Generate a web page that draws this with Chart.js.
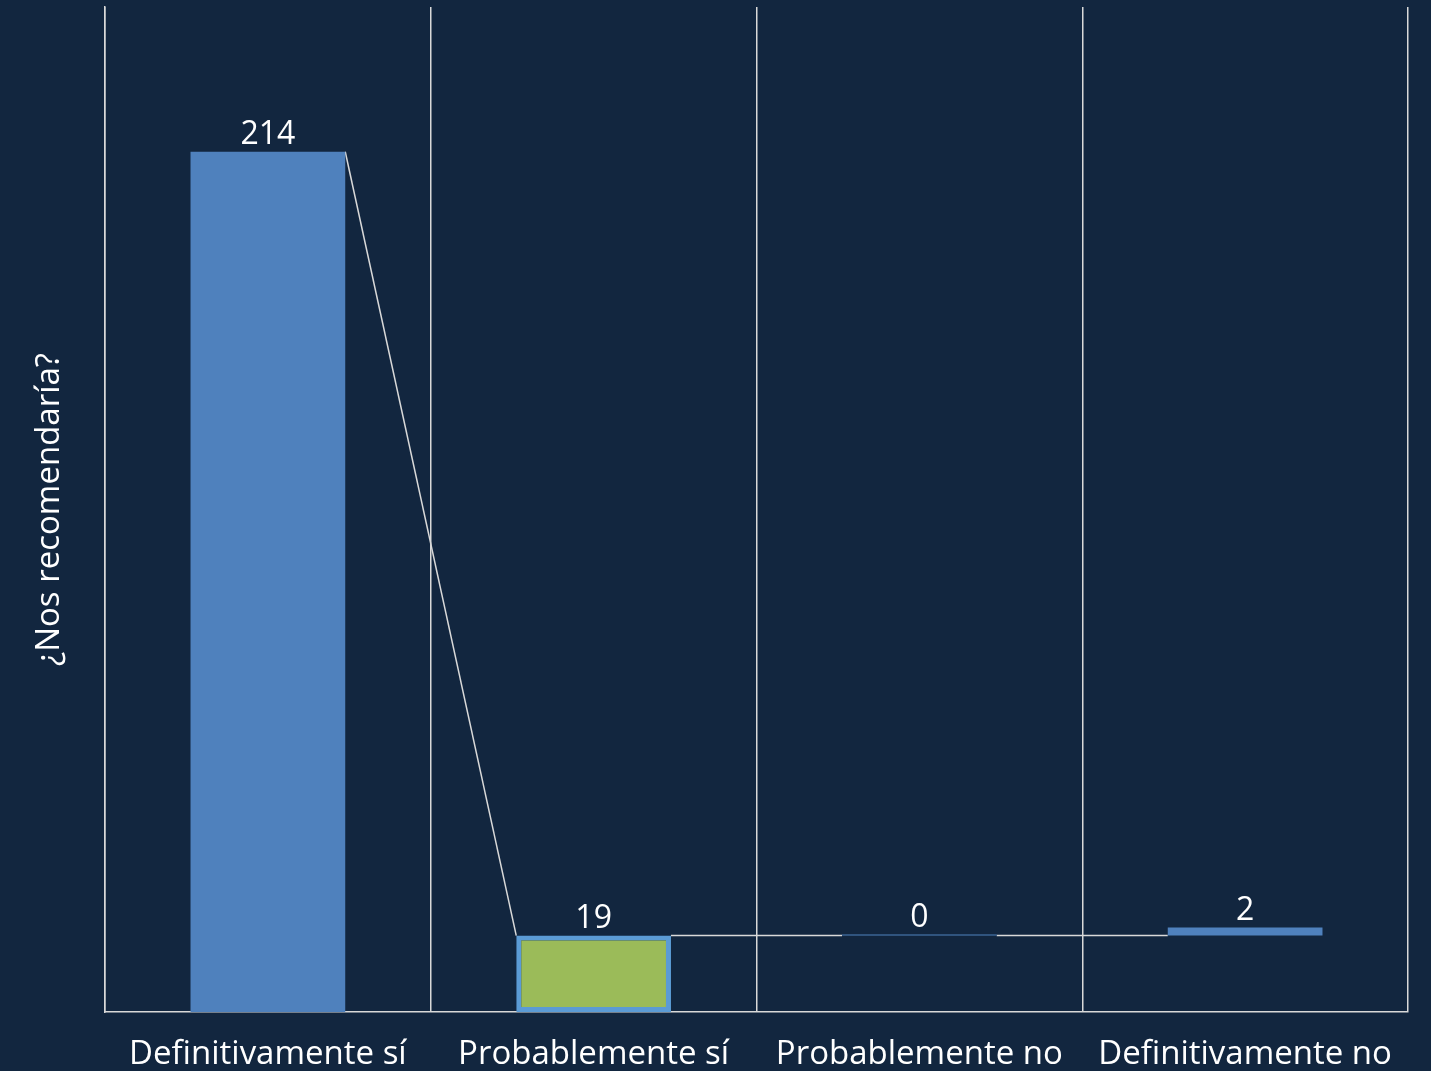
<!DOCTYPE html>
<html lang="es">
<head>
    <meta charset="UTF-8">
    <title>¿Nos recomendaría?</title>
    <script src="https://cdn.jsdelivr.net/npm/chart.js@4"></script>
    <style>
        html, body {
            margin: 0;
            padding: 0;
            background: #12263f;
        }
        .wrap {
            width: 1431px;
            height: 1071px;
            position: relative;
        }
    </style>
</head>
<body>
<div class="wrap">
    <canvas id="chart"></canvas>
</div>

<script>
    // datos
    const categories = ["Definitivamente sí", "Probablemente sí", "Probablemente no", "Definitivamente no"];
    const values = [214, 19, 0, 2];
    const bases = [0, 0, 19, 19];

    const fillColors = ["#4f81bd", "#9bbb59", "#4f81bd", "#4f81bd"];
    const edgeColors = ["#4f81bd", "#5b9bd5", "#4f81bd", "#4f81bd"];
    const edgeWidths = [0, 5, 0, 0];

    const gridColor = "#d9d9d9";
    const fontFamily = "'Open Sans', 'Noto Sans', sans-serif";

    // lineas de union entre barras (como en una cascada)
    const connectors = {
        id: "connectors",
        beforeDatasetsDraw(chart) {
            const meta = chart.getDatasetMeta(0);
            const y = chart.scales.y;
            const data = chart.data.datasets[0].data;
            const ctx = chart.ctx;
            ctx.save();
            ctx.strokeStyle = gridColor;
            ctx.lineWidth = 1.5;
            for (let i = 0; i < data.length - 1; i++) {
                const a = meta.data[i], b = meta.data[i + 1];
                const next = data[i + 1];
                const to = next[0] !== 0 ? next[0] : next[1];
                ctx.beginPath();
                ctx.moveTo(a.x + a.width / 2, y.getPixelForValue(data[i][1]));
                ctx.lineTo(b.x - b.width / 2, y.getPixelForValue(to));
                ctx.stroke();
            }
            ctx.restore();
        }
    };

    // etiquetas con el valor encima de cada barra
    const valueLabels = {
        id: "valueLabels",
        afterDatasetsDraw(chart) {
            const meta = chart.getDatasetMeta(0);
            const ctx = chart.ctx;
            ctx.save();
            ctx.fillStyle = "#ffffff";
            ctx.font = "32px " + fontFamily;
            ctx.textAlign = "center";
            ctx.textBaseline = "bottom";
            meta.data.forEach((bar, i) => {
                const top = Math.min(bar.y, bar.base);
                ctx.fillText(String(values[i]), bar.x, top - 1);
            });
            ctx.restore();
        }
    };

    new Chart(document.getElementById("chart"), {
        type: "bar",
        data: {
            labels: categories,
            datasets: [{
                data: values.map((v, i) => [bases[i], bases[i] + v]),
                backgroundColor: fillColors,
                borderColor: edgeColors,
                borderWidth: edgeWidths,
                borderSkipped: false,
                categoryPercentage: 1,
                barPercentage: 0.475,
                minBarLength: 1
            }]
        },
        options: {
            responsive: true,
            maintainAspectRatio: false,
            animation: false,
            layout: { padding: { top: 7, right: 23, left: 0, bottom: 0 } },
            plugins: {
                legend: { display: false },
                tooltip: { enabled: false }
            },
            scales: {
                x: {
                    offset: true,
                    grid: {
                        offset: true,
                        color: gridColor,
                        lineWidth: 1.5,
                        drawTicks: false
                    },
                    border: { color: gridColor, width: 1.5 },
                    ticks: {
                        color: "#ffffff",
                        padding: 23,
                        font: { family: fontFamily, size: 33 }
                    },
                    afterFit(scale) { scale.height = 59; }
                },
                y: {
                    min: 0,
                    max: 250,
                    grid: { display: false },
                    border: { color: gridColor, width: 1.5 },
                    ticks: { display: false },
                    title: {
                        display: true,
                        text: "¿Nos recomendaría?",
                        color: "#ffffff",
                        padding: { top: 30, bottom: 0 },
                        font: { family: fontFamily, size: 33 }
                    },
                    afterFit(scale) { scale.width = 105; }
                }
            }
        },
        plugins: [connectors, valueLabels]
    });
</script>
</body>
</html>
